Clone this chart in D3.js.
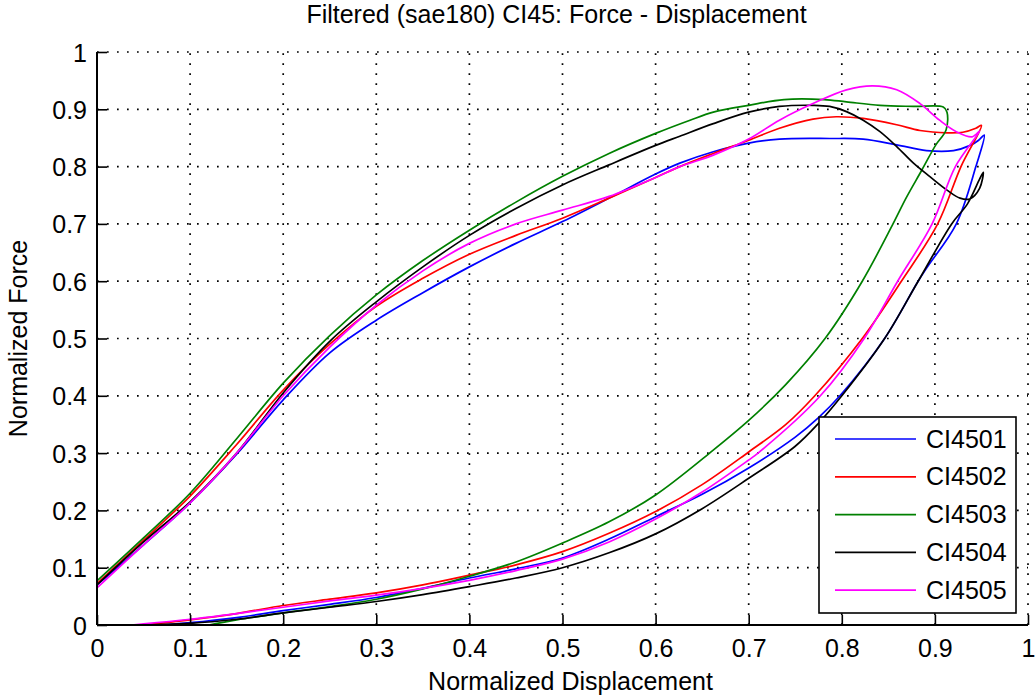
<!DOCTYPE html>
<html>
<head>
<meta charset="utf-8">
<script src="https://cdn.jsdelivr.net/npm/d3@7"></script>
<style>
  html, body { margin: 0; padding: 0; background: #fff; }
  text { font-family: "Liberation Sans", Arial, sans-serif; fill: #000; }
</style>
</head>
<body>
<div id="chart"></div>
<script>
// Series names and colors
const names = ["CI4501", "CI4502", "CI4503", "CI4504", "CI4505"];
const colors = ["#0000ff", "#ff0000", "#008000", "#000000", "#ff00ff"];

// [displacement, force] in path order: loading branch then unloading branch
const ci4501 = [
  [0, 0.07], [0.05, 0.14], [0.1, 0.213], [0.15, 0.298], [0.2, 0.393], [0.25, 0.475],
  [0.3, 0.532], [0.35, 0.58], [0.4, 0.625], [0.45, 0.666], [0.5, 0.704], [0.55, 0.745],
  [0.6, 0.787], [0.626, 0.806], [0.662, 0.826], [0.7, 0.841], [0.733, 0.848], [0.787, 0.849],
  [0.823, 0.848], [0.859, 0.838], [0.891, 0.828], [0.92, 0.828], [0.938, 0.837], [0.947, 0.846],
  [0.953, 0.855],
  [0.944, 0.8], [0.923, 0.7], [0.892, 0.625], [0.882, 0.6], [0.846, 0.5], [0.798, 0.4],
  [0.775, 0.362], [0.75, 0.328], [0.7, 0.274], [0.65, 0.228], [0.6, 0.189], [0.55, 0.15], [0.5, 0.117],
  [0.45, 0.098], [0.4, 0.082], [0.35, 0.064], [0.3, 0.048], [0.25, 0.036], [0.2, 0.025],
  [0.15, 0.013], [0.1, 0.004], [0.07, 0]
];
const ci4502 = [
  [0, 0.072], [0.05, 0.148], [0.1, 0.225], [0.15, 0.315], [0.2, 0.41], [0.25, 0.49],
  [0.3, 0.556], [0.35, 0.605], [0.4, 0.647], [0.45, 0.68], [0.5, 0.71], [0.55, 0.745],
  [0.6, 0.781], [0.626, 0.8], [0.662, 0.823], [0.7, 0.846], [0.733, 0.867], [0.769, 0.883],
  [0.794, 0.887], [0.823, 0.884], [0.859, 0.873], [0.884, 0.863], [0.913, 0.859], [0.93, 0.86],
  [0.944, 0.867], [0.95, 0.872],
  [0.928, 0.8], [0.903, 0.7], [0.864, 0.6], [0.822, 0.5], [0.771, 0.4],
  [0.74, 0.35], [0.7, 0.302], [0.65, 0.245], [0.6, 0.198], [0.55, 0.16], [0.5, 0.128],
  [0.45, 0.105], [0.4, 0.087], [0.35, 0.07], [0.3, 0.056], [0.25, 0.045], [0.2, 0.034],
  [0.15, 0.02], [0.1, 0.009], [0.05, 0]
];
const ci4503 = [
  [0, 0.077], [0.05, 0.152], [0.1, 0.23], [0.15, 0.325], [0.2, 0.422], [0.25, 0.505],
  [0.3, 0.576], [0.35, 0.636], [0.4, 0.689], [0.45, 0.738], [0.5, 0.783], [0.55, 0.823],
  [0.6, 0.858], [0.637, 0.881], [0.662, 0.895], [0.7, 0.907], [0.738, 0.917], [0.781, 0.917],
  [0.805, 0.913], [0.841, 0.907], [0.877, 0.905], [0.909, 0.904], [0.913, 0.895],
  [0.912, 0.864], [0.901, 0.838], [0.886, 0.794], [0.869, 0.745], [0.855, 0.7], [0.822, 0.6],
  [0.782, 0.5], [0.74, 0.42], [0.7, 0.357], [0.658, 0.3], [0.6, 0.227], [0.55, 0.18],
  [0.5, 0.143], [0.45, 0.11], [0.4, 0.085], [0.35, 0.063], [0.3, 0.045], [0.25, 0.032],
  [0.2, 0.021], [0.15, 0.009], [0.12, 0]
];
const ci4504 = [
  [0, 0.07], [0.05, 0.145], [0.1, 0.215], [0.15, 0.3], [0.2, 0.405], [0.25, 0.495],
  [0.3, 0.564], [0.35, 0.625], [0.4, 0.68], [0.45, 0.727], [0.5, 0.768], [0.55, 0.803],
  [0.6, 0.837], [0.626, 0.853], [0.662, 0.875], [0.7, 0.895], [0.733, 0.905], [0.769, 0.907],
  [0.787, 0.905], [0.805, 0.896], [0.823, 0.881], [0.841, 0.861], [0.859, 0.835], [0.877, 0.806],
  [0.895, 0.782], [0.913, 0.759], [0.927, 0.745], [0.938, 0.744], [0.948, 0.762], [0.952, 0.79],
  [0.948, 0.778], [0.935, 0.735], [0.918, 0.7], [0.882, 0.6], [0.846, 0.5], [0.8, 0.4],
  [0.775, 0.352], [0.75, 0.312], [0.7, 0.256], [0.65, 0.203], [0.6, 0.159], [0.55, 0.126], [0.5, 0.1],
  [0.45, 0.082], [0.4, 0.067], [0.35, 0.053], [0.3, 0.041], [0.25, 0.031], [0.2, 0.021],
  [0.15, 0.01], [0.1, 0.003], [0.035, 0]
];
const ci4505 = [
  [0, 0.065], [0.05, 0.14], [0.1, 0.213], [0.15, 0.3], [0.2, 0.4], [0.25, 0.485],
  [0.3, 0.558], [0.35, 0.618], [0.4, 0.666], [0.45, 0.7], [0.5, 0.724], [0.55, 0.748],
  [0.6, 0.781], [0.626, 0.8], [0.662, 0.82], [0.7, 0.848], [0.733, 0.881], [0.769, 0.91],
  [0.805, 0.934], [0.833, 0.941], [0.859, 0.934], [0.884, 0.91], [0.905, 0.881], [0.923, 0.861],
  [0.94, 0.852], [0.948, 0.862],
  [0.922, 0.8], [0.897, 0.7], [0.86, 0.6], [0.824, 0.5], [0.777, 0.4],
  [0.71, 0.3], [0.7, 0.288], [0.65, 0.232], [0.6, 0.185], [0.55, 0.145], [0.5, 0.115],
  [0.45, 0.095], [0.4, 0.078], [0.35, 0.064], [0.3, 0.052], [0.25, 0.042], [0.2, 0.031],
  [0.15, 0.02], [0.1, 0.01], [0.05, 0.002], [0.035, 0], [0, 0]
];
const series = [ci4501, ci4502, ci4503, ci4504, ci4505];

const xTicks = [0, 0.1, 0.2, 0.3, 0.4, 0.5, 0.6, 0.7, 0.8, 0.9, 1];
const yTicks = [0, 0.1, 0.2, 0.3, 0.4, 0.5, 0.6, 0.7, 0.8, 0.9, 1];

const titleText = "Filtered (sae180) CI45: Force - Displacement";
const xLabel = "Normalized Displacement";
const yLabel = "Normalized Force";

// Layout
const width = 1035;
const height = 697;
const plotLeft = 97, plotRight = 1028, plotTop = 52, plotBottom = 625;
const fontSize = 25;

const xScale = d3.scaleLinear().domain([0, 1]).range([plotLeft, plotRight]);
const yScale = d3.scaleLinear().domain([0, 1]).range([plotBottom, plotTop]);

const svg = d3
  .select("#chart")
  .append("svg")
  .attr("width", width)
  .attr("height", height);

svg.append("rect").attr("width", width).attr("height", height).attr("fill", "#fff");

// dotted grid
const grid = svg.append("g").attr("stroke", "#000").attr("stroke-width", 1.7).attr("stroke-dasharray", "1.7,8.3");
grid
  .selectAll("line.vx")
  .data(xTicks.slice(1))
  .enter()
  .append("line")
  .attr("x1", (d) => xScale(d))
  .attr("x2", (d) => xScale(d))
  .attr("y1", plotBottom)
  .attr("y2", plotTop);
grid
  .selectAll("line.hy")
  .data(yTicks.slice(1))
  .enter()
  .append("line")
  .attr("y1", (d) => yScale(d))
  .attr("y2", (d) => yScale(d))
  .attr("x1", plotLeft)
  .attr("x2", plotRight);

// curves
const line = d3
  .line()
  .x((d) => xScale(d[0]))
  .y((d) => yScale(d[1]))
  .curve(d3.curveCatmullRom.alpha(0.5));

svg
  .append("g")
  .selectAll("path")
  .data(series)
  .enter()
  .append("path")
  .attr("d", (d) => line(d))
  .attr("fill", "none")
  .attr("stroke", (d, i) => colors[i])
  .attr("stroke-width", 1.7)
  .attr("stroke-linejoin", "round");

// axes (inward ticks, no box)
const xAxis = d3.axisBottom(xScale).tickValues(xTicks).tickSize(-10).tickPadding(14).tickFormat(d3.format("~g"));
const gx = svg.append("g").attr("transform", "translate(0," + plotBottom + ")").call(xAxis);
gx.select(".domain").attr("stroke-width", 2).attr("d", "M" + plotLeft + ",0H" + plotRight);
gx.selectAll(".tick line").attr("stroke-width", 1.6);
gx.selectAll(".tick text").attr("font-size", fontSize).attr("font-family", "Liberation Sans, Arial, sans-serif").attr("dy", "0.71em");

const yAxis = d3.axisLeft(yScale).tickValues(yTicks).tickSize(-10).tickPadding(10).tickFormat(d3.format("~g"));
const gy = svg.append("g").attr("transform", "translate(" + plotLeft + ",0)").call(yAxis);
gy.select(".domain").attr("stroke-width", 2).attr("d", "M0," + plotBottom + "V" + plotTop);
gy.selectAll(".tick line").attr("stroke-width", 1.6);
gy.selectAll(".tick text").attr("font-size", fontSize).attr("font-family", "Liberation Sans, Arial, sans-serif").attr("dy", "0.36em");

// labels
svg.append("text").attr("x", (plotLeft + plotRight) / 2 - 6).attr("y", 23).attr("text-anchor", "middle").attr("font-size", fontSize).text(titleText);
svg.append("text").attr("x", (plotLeft + plotRight) / 2 + 8).attr("y", 690).attr("text-anchor", "middle").attr("font-size", fontSize).text(xLabel);
svg
  .append("text")
  .attr("transform", "translate(27," + (plotTop + plotBottom) / 2 + ") rotate(-90)")
  .attr("text-anchor", "middle")
  .attr("font-size", fontSize)
  .text(yLabel);

// legend
const legend = svg.append("g");
legend
  .append("rect")
  .attr("x", 819)
  .attr("y", 417)
  .attr("width", 197)
  .attr("height", 196)
  .attr("fill", "#fff")
  .attr("stroke", "#000")
  .attr("stroke-width", 1.6);
const rows = legend
  .selectAll("g.row")
  .data(names)
  .enter()
  .append("g")
  .attr("transform", (d, i) => "translate(0," + (439 + i * 37.8) + ")");
rows
  .append("line")
  .attr("x1", 835)
  .attr("x2", 916)
  .attr("stroke", (d, i) => colors[i])
  .attr("stroke-width", 1.7);
rows
  .append("text")
  .attr("x", 926)
  .attr("y", 8.5)
  .attr("font-size", fontSize)
  .text((d) => d);
</script>
</body>
</html>
